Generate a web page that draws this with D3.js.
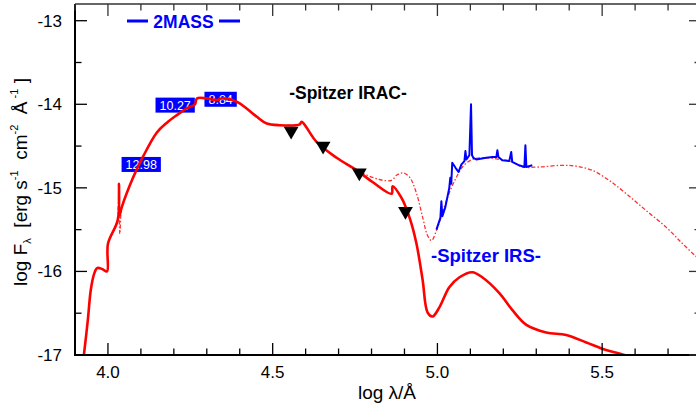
<!DOCTYPE html>
<html><head><meta charset="utf-8">
<script src="https://cdn.jsdelivr.net/npm/d3@7"></script>
<style>
html,body{margin:0;padding:0;background:#fff;}
svg{display:block;font-family:"Liberation Sans",Arial,sans-serif;}
</style></head>
<body><svg id="c" width="696" height="407"></svg>
<script>
// ---- data (log lambda [A], log F_lambda) ----
const modelLam = [3.927,3.939,3.948,3.958,3.967,3.982,3.997,4.000,4.030,4.0335,4.035,4.042,4.076,4.106,4.148,4.179,4.209,4.239,4.264,4.270,4.300,4.330,4.345,4.391,4.421,4.452,4.482,4.521,4.582,4.588,4.633,4.694,4.755,4.803,4.861,4.864,4.891,4.915,4.936,4.955,4.970,4.985,5.006,5.036,5.067,5.106,5.136,5.188,5.227,5.270,5.330,5.391,5.452,5.512,5.567,5.612];
const modelF   = [-17.00,-16.58,-16.22,-16.03,-15.96,-15.97,-16.00,-15.67,-15.38,-14.95,-15.33,-15.23,-14.88,-14.63,-14.34,-14.22,-14.13,-14.05,-14.00,-13.93,-13.93,-13.95,-13.93,-13.97,-14.05,-14.15,-14.23,-14.25,-14.24,-14.21,-14.45,-14.64,-14.79,-14.93,-15.07,-14.98,-15.12,-15.35,-15.66,-16.10,-16.49,-16.54,-16.43,-16.19,-16.07,-16.01,-16.07,-16.26,-16.46,-16.64,-16.73,-16.76,-16.85,-16.94,-17.00,-17.09];

const diskLam = [4.030,4.033,4.036,4.040,4.042,4.076,4.106,4.148,4.179,4.209,4.239,4.264,4.270,4.300,4.330,4.345,4.391,4.421,4.452,4.482,4.521,4.582,4.588,4.633,4.694,4.755,4.824,4.861,4.876,4.894,4.915,4.936,4.955,4.970,4.982,4.997,5.015,5.036,5.058,5.076,5.106,5.148,5.188,5.227,5.258,5.309,5.379,5.421,5.470,5.521,5.573,5.633,5.694,5.742,5.782,5.800];
const diskF   = [-15.38,-15.10,-15.55,-15.27,-15.23,-14.88,-14.63,-14.34,-14.22,-14.13,-14.05,-14.00,-13.93,-13.93,-13.95,-13.93,-13.97,-14.05,-14.15,-14.23,-14.25,-14.24,-14.21,-14.45,-14.64,-14.79,-14.90,-14.91,-14.85,-14.82,-14.87,-15.06,-15.35,-15.57,-15.63,-15.51,-15.30,-15.06,-14.87,-14.75,-14.66,-14.64,-14.66,-14.69,-14.75,-14.75,-14.73,-14.74,-14.79,-14.91,-15.07,-15.27,-15.47,-15.66,-15.81,-15.87];

const irsLam = [4.997,5.009,5.012,5.015,5.024,5.036,5.039,5.042,5.045,5.055,5.064,5.073,5.082,5.085,5.088,5.097,5.102,5.105,5.109,5.118,5.148,5.167,5.179,5.182,5.185,5.197,5.218,5.224,5.227,5.248,5.264,5.267,5.270,5.288];
const irsF   = [-15.50,-15.36,-15.16,-15.34,-15.23,-15.00,-14.88,-14.95,-14.70,-14.76,-14.81,-14.72,-14.68,-14.56,-14.66,-14.61,-14.00,-14.61,-14.64,-14.66,-14.64,-14.63,-14.63,-14.55,-14.63,-14.67,-14.68,-14.57,-14.69,-14.73,-14.75,-14.49,-14.75,-14.73];

const iracLam = [4.556,4.653,4.763,4.903];
const iracF   = [-14.32,-14.50,-14.82,-15.28];

const massLabels = ["12.98","10.27","8.84"];
const massLam = [4.101,4.204,4.342];
const massF   = [-14.72,-14.01,-13.94];

const xTicks = [4.0,4.5,5.0,5.5];
const yTicks = [-13,-14,-15,-16,-17];

// ---- layout ----
const svg = d3.select("#c");
const L=75, R=701, T=4, B=355;
const x = d3.scaleLinear().domain([3.9,5.8]).range([L,R]);
const y = d3.scaleLinear().domain([-17,-12.8]).range([B,T]);

svg.append("defs").append("clipPath").attr("id","clip")
  .append("rect").attr("x",L).attr("y",T).attr("width",R-L).attr("height",B-T);

const plot = svg.append("g").attr("clip-path","url(#clip)");

// 2MASS boxes
const fs = 12.5;
massLabels.forEach((t,i)=>{
  const cx=x(massLam[i]), cy=y(massF[i]);
  const g = plot.append("g");
  const txt = g.append("text").attr("x",cx).attr("y",cy+4.5).attr("text-anchor","middle")
     .attr("fill","#fff").attr("font-size",fs).text(t);
  const w = txt.node().getComputedTextLength()+8;
  g.insert("rect","text").attr("x",cx-w/2).attr("y",cy-7.5).attr("width",w).attr("height",15).attr("fill","#0000ff");
});

// disk model (dash-dot)
plot.append("path")
  .datum(diskLam.map((l,i)=>[l,diskF[i]]))
  .attr("fill","none").attr("stroke","#ff3030").attr("stroke-width",1.3)
  .attr("stroke-dasharray","4,2,1.5,2")
  .attr("d", d3.line().x(d=>x(d[0])).y(d=>y(d[1])).curve(d3.curveCatmullRom.alpha(0.5)));

// IRS spectrum
plot.append("path")
  .datum(irsLam.map((l,i)=>[l,irsF[i]]))
  .attr("fill","none").attr("stroke","#0000ff").attr("stroke-width",2)
  .attr("stroke-linejoin","round")
  .attr("d", d3.line().x(d=>x(d[0])).y(d=>y(d[1])));

// photosphere model (solid)
plot.append("path")
  .datum(modelLam.map((l,i)=>[l,modelF[i]]))
  .attr("fill","none").attr("stroke","#ff0000").attr("stroke-width",2.6)
  .attr("stroke-linejoin","round")
  .attr("d", d3.line().x(d=>x(d[0])).y(d=>y(d[1])).curve(d3.curveCatmullRom.alpha(0.5)));

// IRAC triangles
plot.selectAll(".tri").data(iracLam).enter().append("path")
  .attr("transform",(d,i)=>`translate(${x(d)},${y(iracF[i])}) rotate(180)`)
  .attr("d", d3.symbol().type(d3.symbolTriangle).size(95))
  .attr("fill","#000");

// ---- axes ----
const axG = svg.append("g");
const major = 12, minor = 6.5;
axG.append("line").attr("x1",L).attr("x2",L).attr("y1",T).attr("y2",B+1).attr("stroke","#000").attr("stroke-width",2);
axG.append("line").attr("x1",L-1).attr("x2",R).attr("y1",B).attr("y2",B).attr("stroke","#000").attr("stroke-width",2);
axG.append("line").attr("x1",L).attr("x2",R).attr("y1",T).attr("y2",T).attr("stroke","#333").attr("stroke-width",1.5);
axG.append("line").attr("x1",R).attr("x2",R).attr("y1",T).attr("y2",B).attr("stroke","#333").attr("stroke-width",1.5);

const xMinor = d3.range(39,59).map(v=>v/10);
xMinor.forEach(v=>{
  const isMaj = Math.abs(v*2-Math.round(v*2))<1e-6;
  const len = isMaj?major:minor;
  axG.append("line").attr("x1",x(v)).attr("x2",x(v)).attr("y1",B).attr("y2",B-len).attr("stroke","#000").attr("stroke-width",1.3);
  axG.append("line").attr("x1",x(v)).attr("x2",x(v)).attr("y1",T).attr("y2",T+len).attr("stroke","#333").attr("stroke-width",1.3);
});
const yMinor = d3.range(-34,-25).map(v=>v/2);
yMinor.forEach(v=>{
  const isMaj = Number.isInteger(v);
  const len = isMaj?major:minor;
  axG.append("line").attr("x1",L).attr("x2",L+len).attr("y1",y(v)).attr("y2",y(v)).attr("stroke","#000").attr("stroke-width",1.3);
  axG.append("line").attr("x1",R).attr("x2",R-len).attr("y1",y(v)).attr("y2",y(v)).attr("stroke","#333").attr("stroke-width",1.3);
});

const tfs = 17;
xTicks.forEach(v=>{
  axG.append("text").attr("x",x(v)).attr("y",B+23).attr("text-anchor","middle")
    .attr("font-size",tfs).attr("fill","#000").text(d3.format(".1f")(v));
});
yTicks.forEach(v=>{
  axG.append("text").attr("x",62).attr("y",y(v)+6).attr("text-anchor","end")
    .attr("font-size",tfs).attr("fill","#000").text(String(v));
});

// axis titles
svg.append("text").attr("x",387).attr("y",399).attr("text-anchor","middle")
  .attr("font-size",19).attr("fill","#000").text("log λ/Å");

const yt = svg.append("text").attr("transform","translate(27,182) rotate(-90)")
  .attr("text-anchor","middle").attr("font-size",19).attr("fill","#000")
  .attr("xml:space","preserve").style("white-space","pre");
yt.append("tspan").text("log F");
yt.append("tspan").attr("font-size",11).attr("dy",4).text("λ");
yt.append("tspan").attr("dy",-4).text("  [erg s");
yt.append("tspan").attr("font-size",11).attr("dy",-9).text("-1");
yt.append("tspan").attr("dy",9).text("  cm");
yt.append("tspan").attr("font-size",11).attr("dy",-9).text("-2");
yt.append("tspan").attr("dy",9).text("  Å");
yt.append("tspan").attr("font-size",11).attr("dy",-9).text(" -1");
yt.append("tspan").attr("dy",9).text(" ]");

// annotations
const ann = svg.append("g").attr("font-weight","bold");
ann.append("text").attr("x",183.5).attr("y",27.5).attr("text-anchor","middle")
  .attr("font-size",17.5).attr("fill","#0000ff").text("2MASS");
ann.append("line").attr("x1",127).attr("x2",148).attr("y1",21).attr("y2",21).attr("stroke","#0000ff").attr("stroke-width",3);
ann.append("line").attr("x1",219).attr("x2",240).attr("y1",21).attr("y2",21).attr("stroke","#0000ff").attr("stroke-width",3);
ann.append("text").attr("x",348).attr("y",98.5).attr("text-anchor","middle")
  .attr("font-size",17.5).attr("fill","#000").text("-Spitzer IRAC-");
ann.append("text").attr("x",486).attr("y",261.5).attr("text-anchor","middle")
  .attr("font-size",18.5).attr("fill","#0000ff").text("-Spitzer IRS-");
</script></body></html>
